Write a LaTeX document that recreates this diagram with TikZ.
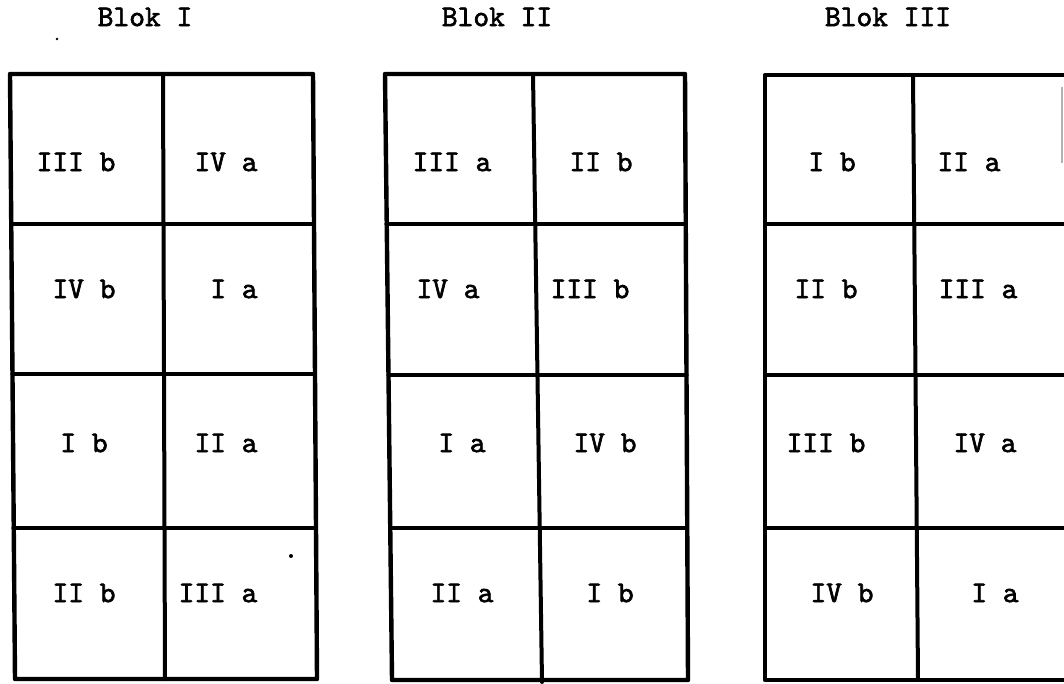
\documentclass[tikz,border=0pt]{standalone}
\usepackage{fontspec}
\newfontfamily\tw[FakeBold=2]{lmmono10-regular.otf}
\begin{document}
\begin{tikzpicture}[x=0.5pt,y=-0.5pt,
  outer/.style={line width=2.2pt,line cap=round,line join=round},
  inner/.style={line width=1.6pt,line cap=round},
  midv/.style={line width=2pt,line cap=round},
  lbl/.style={inner sep=0pt,font=\tw\fontsize{15pt}{17pt}\selectfont},
  speck/.style={fill=black,draw=none}]
\useasboundingbox (0,0) rectangle (1064,684);
% titles
\node[lbl] (t1) at (145,17) {Blok I};
\node[lbl] (t2) at (497,17) {Blok II};
\node[lbl] (t3) at (888,17) {Blok III};
% Block I
\draw[outer] (10,74) -- (313,74) -- (317,679) -- (15,679) -- cycle;
\draw[midv] (163,74) -- (165,679);
\draw[inner] (11,224) -- (314,224);
\draw[inner] (12,374) -- (315,374);
\draw[inner] (13,528) -- (316,528);
% Block II
\draw[outer] (385,74) -- (685,74) -- (688,680) -- (392,680) -- cycle;
\draw[midv] (533,74) -- (542,682);
\draw[inner] (386,224) -- (686,224);
\draw[inner] (388,375) -- (687,375);
\draw[inner] (390,528) -- (687,528);
% Block III (cut off at the right edge)
\draw[outer] (1064,75) -- (765,75) -- (765,680) -- (1064,680);
\draw[midv] (913,75) -- (918,680);
\draw[inner] (765,224) -- (1064,224);
\draw[inner] (765,375) -- (1064,375);
\draw[inner] (765,528) -- (1064,528);
\draw[gray!60,line width=0.6pt] (1062,87) -- (1062,163);
% specks
\fill[speck] (57,39) circle (1.3);
\fill[speck] (291,556) circle (2);
% labels Block I
\node[lbl] (a11) at (76,162) {III b};
\node[lbl] (a12) at (226,162) {IV a};
\node[lbl] (a21) at (84,289) {IV b};
\node[lbl] (a22) at (234,289) {I a};
\node[lbl] (a31) at (84,443) {I b};
\node[lbl] (a32) at (226,443) {II a};
\node[lbl] (a41) at (84,593) {II b};
\node[lbl] (a42) at (218,593) {III a};
% labels Block II
\node[lbl] (b11) at (452,162) {III a};
\node[lbl] (b12) at (601,162) {II b};
\node[lbl] (b21) at (448,289) {IV a};
\node[lbl] (b22) at (590,289) {III b};
\node[lbl] (b31) at (462,443) {I a};
\node[lbl] (b32) at (605,443) {IV b};
\node[lbl] (b41) at (462,593) {II a};
\node[lbl] (b42) at (610,593) {I b};
% labels Block III
\node[lbl] (c11) at (832,162) {I b};
\node[lbl] (c12) at (969,162) {II a};
\node[lbl] (c21) at (826,289) {II b};
\node[lbl] (c22) at (978,289) {III a};
\node[lbl] (c31) at (826,443) {III b};
\node[lbl] (c32) at (985,443) {IV a};
\node[lbl] (c41) at (842,593) {IV b};
\node[lbl] (c42) at (995,593) {I a};
\end{tikzpicture}
\end{document}
